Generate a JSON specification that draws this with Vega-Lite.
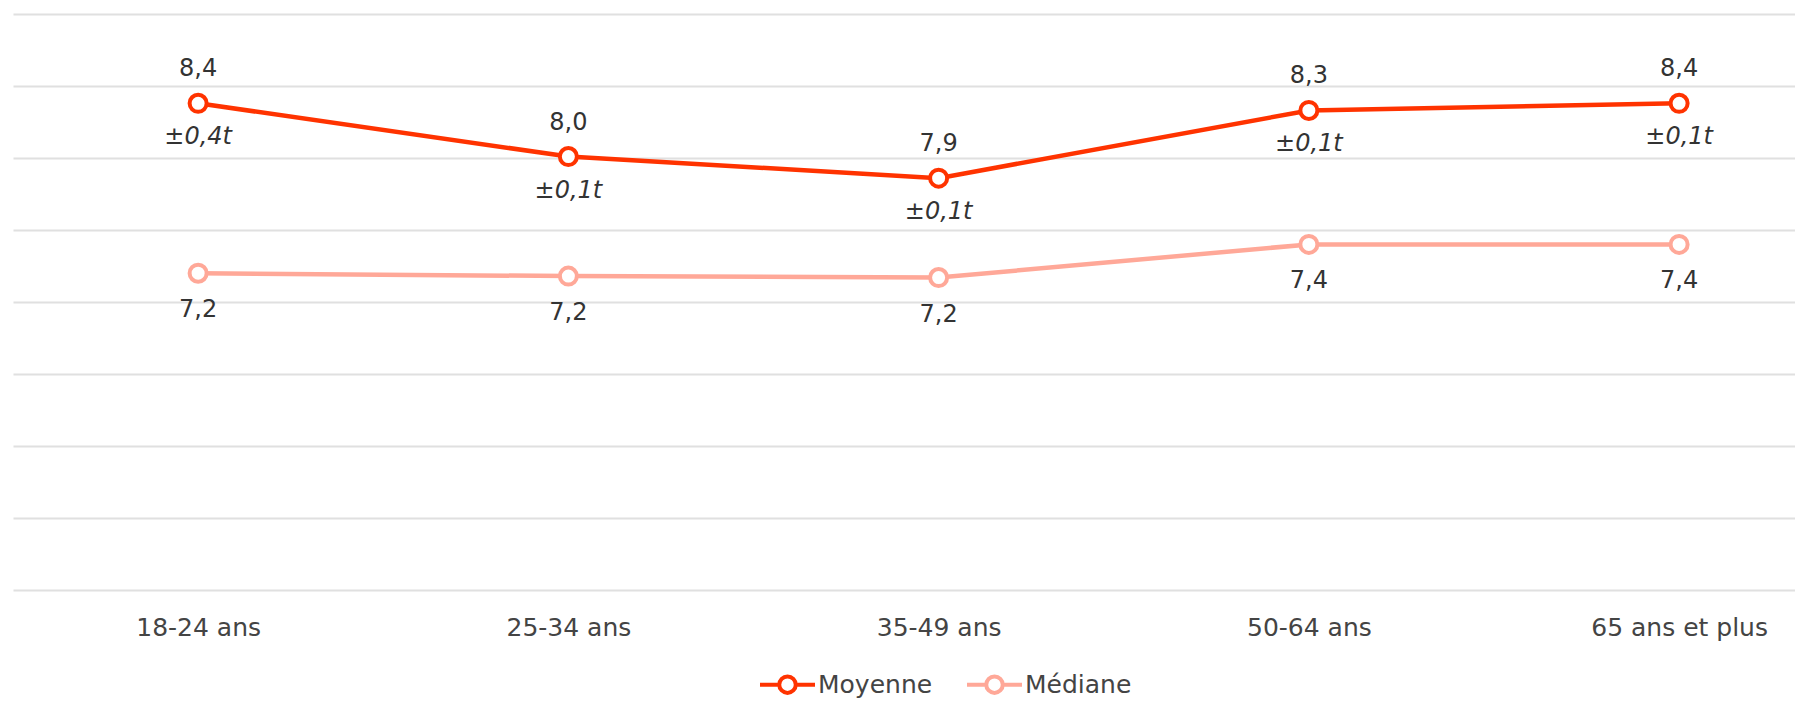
{
  "$schema": "https://vega.github.io/schema/vega-lite/v6.json",
  "width": 1782,
  "height": 576,
  "autosize": {"type": "none"},
  "padding": {"left": 13, "top": 14, "right": 0, "bottom": 111},
  "background": "white",
  "config": {"view": {"stroke": null}, "font": "DejaVu Sans"},
  "data": {
    "values": [
      {"age": "18-24 ans", "serie": "Moyenne", "valeur": 8.38, "libelle": "8,4", "marge": "±0,4t"},
      {"age": "25-34 ans", "serie": "Moyenne", "valeur": 8.01, "libelle": "8,0", "marge": "±0,1t"},
      {"age": "35-49 ans", "serie": "Moyenne", "valeur": 7.86, "libelle": "7,9", "marge": "±0,1t"},
      {"age": "50-64 ans", "serie": "Moyenne", "valeur": 8.33, "libelle": "8,3", "marge": "±0,1t"},
      {"age": "65 ans et plus", "serie": "Moyenne", "valeur": 8.38, "libelle": "8,4", "marge": "±0,1t"},
      {"age": "18-24 ans", "serie": "Médiane", "valeur": 7.20, "libelle": "7,2", "marge": ""},
      {"age": "25-34 ans", "serie": "Médiane", "valeur": 7.18, "libelle": "7,2", "marge": ""},
      {"age": "35-49 ans", "serie": "Médiane", "valeur": 7.17, "libelle": "7,2", "marge": ""},
      {"age": "50-64 ans", "serie": "Médiane", "valeur": 7.40, "libelle": "7,4", "marge": ""},
      {"age": "65 ans et plus", "serie": "Médiane", "valeur": 7.40, "libelle": "7,4", "marge": ""}
    ]
  },
  "encoding": {
    "x": {
      "field": "age",
      "type": "nominal",
      "sort": ["18-24 ans", "25-34 ans", "35-49 ans", "50-64 ans", "65 ans et plus"],
      "scale": {"type": "point", "padding": 0.4065, "align": 0.615},
      "axis": {"title": null, "labelAngle": 0, "domain": false, "ticks": false, "grid": false, "labelFontSize": 25, "labelColor": "#444444", "labelPadding": 25}
    },
    "y": {
      "field": "valeur",
      "type": "quantitative",
      "scale": {"domain": [5, 9], "nice": false, "zero": false},
      "axis": {"title": null, "labels": false, "ticks": false, "domain": false, "values": [5, 5.5, 6, 6.5, 7, 7.5, 8, 8.5, 9], "gridColor": "#e0e0e0", "gridWidth": 2}
    }
  },
  "layer": [
    {
      "mark": {"type": "line", "strokeWidth": 4.5},
      "encoding": {
        "color": {
          "field": "serie",
          "type": "nominal",
          "sort": ["Moyenne", "Médiane"],
          "scale": {"domain": ["Moyenne", "Médiane"], "range": ["#ff3300", "#ffa898"]},
          "legend": {
            "orient": "none",
            "legendX": 745,
            "legendY": 641,
            "direction": "horizontal",
            "title": null,
            "padding": 0,
            "symbolType": "M-1,0L-0.3,0M0.3,0L1,0M-0.3,0A0.3,0.3,0,1,0,0.3,0A0.3,0.3,0,1,0,-0.3,0",
            "symbolSize": 3025,
            "symbolStrokeWidth": 4,
            "symbolFillColor": "white",
            "labelFontSize": 25,
            "labelColor": "#444444",
            "labelOffset": 1,
            "columnPadding": 26,
            "encode": {"symbols": {"update": {"fill": {"value": "white"}}}}
          }
        }
      }
    },
    {
      "mark": {"type": "point", "filled": false, "fill": "white", "size": 290, "strokeWidth": 4, "opacity": 1},
      "encoding": {
        "color": {"field": "serie", "type": "nominal", "sort": ["Moyenne", "Médiane"], "scale": {"domain": ["Moyenne", "Médiane"], "range": ["#ff3300", "#ffa898"]}}
      }
    },
    {
      "transform": [{"filter": "datum.serie === 'Moyenne'"}],
      "mark": {"type": "text", "dy": -34, "fontSize": 24, "color": "#333333", "baseline": "middle"},
      "encoding": {"text": {"field": "libelle"}}
    },
    {
      "transform": [{"filter": "datum.serie === 'Moyenne'"}],
      "mark": {"type": "text", "dy": 34, "fontSize": 24, "fontStyle": "italic", "color": "#333333", "baseline": "middle"},
      "encoding": {"text": {"field": "marge"}}
    },
    {
      "transform": [{"filter": "datum.serie === 'Médiane'"}],
      "mark": {"type": "text", "dy": 37, "fontSize": 24, "color": "#333333", "baseline": "middle"},
      "encoding": {"text": {"field": "libelle"}}
    }
  ]
}
